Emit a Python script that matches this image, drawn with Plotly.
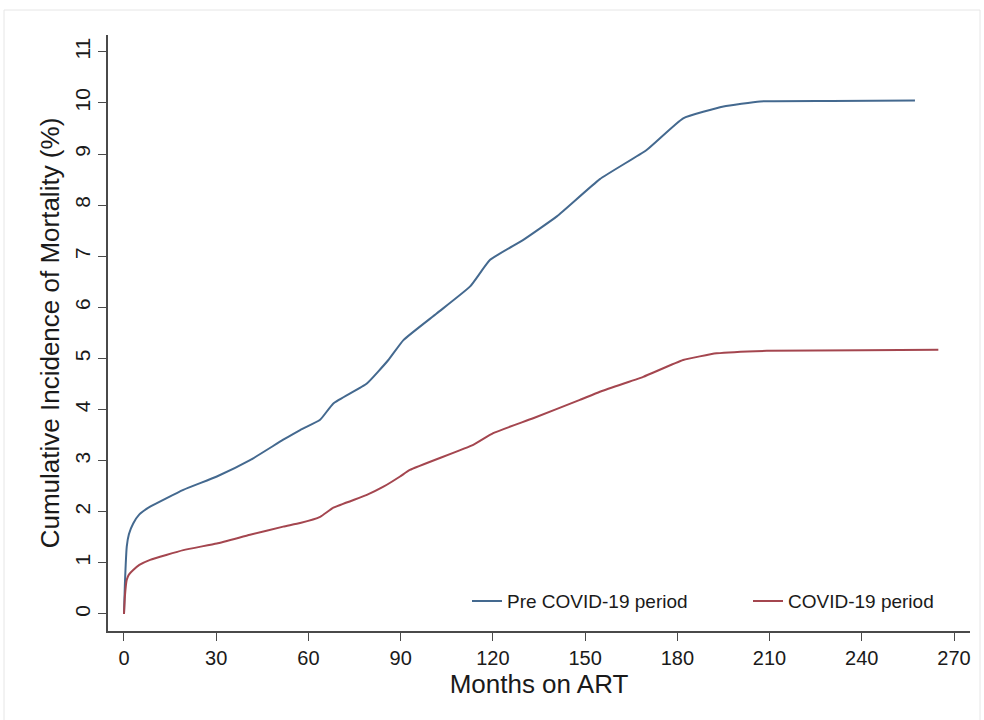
import plotly.graph_objects as go

# Cumulative incidence of mortality by months on ART
pre_months = [0, 0.3, 0.9, 1.6, 3.0, 5.0, 8.5, 19.3, 30.2, 41.0, 51.8, 57.3, 63.8, 68.1, 79.0,
              86.0, 90.9, 101.7, 112.6, 119.1, 129.9, 140.8, 154.8, 170.0, 181.9, 195.0,
              206.9, 230.0, 257.3]
pre_values = [0, 0.6, 1.32, 1.56, 1.77, 1.95, 2.10, 2.43, 2.69, 3.01, 3.41, 3.60, 3.80, 4.12, 4.51,
              4.97, 5.36, 5.88, 6.41, 6.93, 7.32, 7.78, 8.51, 9.08, 9.70, 9.93,
              10.03, 10.04, 10.05]

covid_months = [0, 0.3, 0.9, 1.6, 3.0, 5.0, 8.5, 19.3, 30.2, 41.0, 51.8, 57.3, 63.8, 68.1, 79.0,
                84.4, 89.8, 93.0, 113.6, 120.1, 133.1, 148.3, 154.8, 168.9, 181.9, 192.8,
                209.1, 240.0, 264.9]
covid_values = [0, 0.35, 0.67, 0.77, 0.86, 0.96, 1.06, 1.25, 1.38, 1.55, 1.71, 1.78, 1.90, 2.08,
                2.33, 2.49, 2.69, 2.82, 3.31, 3.54, 3.83, 4.19, 4.35, 4.64, 4.97, 5.10,
                5.15, 5.16, 5.17]

x_ticks = [0, 30, 60, 90, 120, 150, 180, 210, 240, 270]
y_ticks = list(range(0, 12))

BLUE = "#44698f"
RED = "#a4464f"
AXIS = "#4a4a4a"
TEXT = "#1a1a1a"
FONT = "Liberation Sans, Arial, Helvetica, sans-serif"

# page geometry (px)
W, H = 984, 720
ML, MR, MT, MB = 108, 14, 35, 89
PW, PH = W - ML - MR, H - MT - MB

fig = go.Figure()
fig.add_trace(go.Scatter(x=pre_months, y=pre_values, mode="lines",
                         name="Pre COVID-19 period",
                         line=dict(color=BLUE, width=2, shape="spline", smoothing=0.4)))
fig.add_trace(go.Scatter(x=covid_months, y=covid_values, mode="lines",
                         name="COVID-19 period",
                         line=dict(color=RED, width=2, shape="spline", smoothing=0.4)))

fig.update_layout(
    width=W, height=H,
    margin=dict(l=ML, r=MR, t=MT, b=MB, autoexpand=False),
    paper_bgcolor="white", plot_bgcolor="white",
    showlegend=True,
    legend=dict(orientation="h", x=(467 - ML) / PW, y=0.05,
                xanchor="left", yanchor="middle",
                font=dict(family=FONT, size=19, color=TEXT),
                entrywidth=236, bgcolor="rgba(0,0,0,0)", itemwidth=30),
    xaxis=dict(range=[-5.2, 275.2], tickvals=x_ticks, ticks="outside", ticklen=8,
               tickcolor=AXIS, showline=True, linecolor=AXIS, linewidth=1.5,
               showgrid=False, zeroline=False,
               tickfont=dict(family=FONT, size=20, color=TEXT),
               title=dict(text="Months on ART", standoff=4,
                          font=dict(family=FONT, size=26, color=TEXT))),
    yaxis=dict(range=[-0.333, 11.33], tickvals=y_ticks, ticks="outside", ticklen=8,
               tickcolor=AXIS, showline=True, linecolor=AXIS, linewidth=1.5,
               showgrid=False, zeroline=False, tickangle=-90,
               tickfont=dict(family=FONT, size=21, color=TEXT),
               title=dict(text="Cumulative Incidence of Mortality (%)", standoff=4,
                          font=dict(family=FONT, size=26, color=TEXT))),
    shapes=[dict(type="rect", xref="paper", yref="paper",
                 x0=(4 - ML) / PW, x1=(980 - ML) / PW,
                 y0=(H - MB - 722) / PH, y1=(H - MB - 10) / PH,
                 line=dict(color="#e6e6e6", width=1), layer="below")],
)

fig.write_html("out.html")
